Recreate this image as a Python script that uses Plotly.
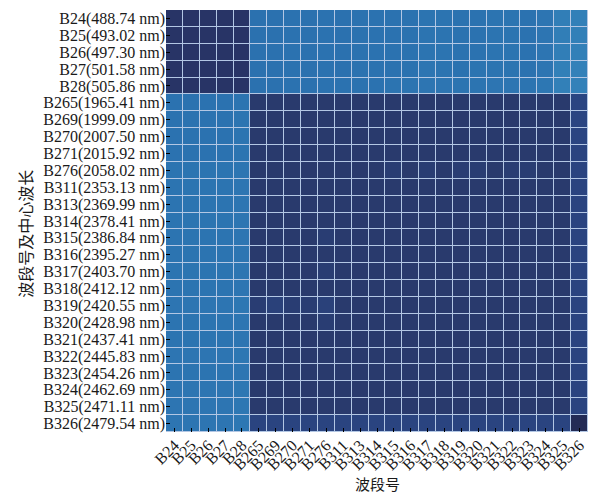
import plotly.graph_objects as go

bands = ["B24", "B25", "B26", "B27", "B28", "B265", "B269", "B270", "B271", "B276",
         "B311", "B313", "B314", "B315", "B316", "B317", "B318", "B319", "B320",
         "B321", "B322", "B323", "B324", "B325", "B326"]
wavelengths = ["488.74", "493.02", "497.30", "501.58", "505.86", "1965.41", "1999.09",
               "2007.50", "2015.92", "2058.02", "2353.13", "2369.99", "2378.41",
               "2386.84", "2395.27", "2403.70", "2412.12", "2420.55", "2428.98",
               "2437.41", "2445.83", "2454.26", "2462.69", "2471.11", "2479.54"]

row_labels = [f"{b}({w} nm)" for b, w in zip(bands, wavelengths)]

# correlation-like values
r_vis = [
    [0.99, 0.99, 0.99, 0.99, 0.99, 0.21, 0.21, 0.20, 0.21, 0.20, 0.21, 0.20, 0.20, 0.20, 0.20, 0.19, 0.19, 0.20, 0.20, 0.19, 0.19, 0.20, 0.18, 0.12, 0.11],
    [0.99, 0.99, 0.99, 0.99, 0.99, 0.21, 0.21, 0.20, 0.21, 0.20, 0.21, 0.20, 0.20, 0.20, 0.20, 0.19, 0.19, 0.20, 0.20, 0.19, 0.19, 0.20, 0.18, 0.12, 0.11],
    [0.99, 0.99, 0.99, 0.99, 0.99, 0.21, 0.21, 0.20, 0.21, 0.20, 0.21, 0.20, 0.20, 0.20, 0.20, 0.19, 0.19, 0.20, 0.20, 0.19, 0.19, 0.20, 0.18, 0.12, 0.11],
    [0.99, 0.99, 0.99, 0.99, 0.99, 0.21, 0.21, 0.20, 0.21, 0.20, 0.21, 0.20, 0.20, 0.20, 0.20, 0.18, 0.19, 0.20, 0.19, 0.19, 0.19, 0.20, 0.18, 0.11, 0.10],
    [0.99, 0.99, 0.99, 0.99, 0.99, 0.21, 0.21, 0.20, 0.21, 0.20, 0.20, 0.20, 0.20, 0.19, 0.19, 0.18, 0.18, 0.19, 0.19, 0.18, 0.18, 0.19, 0.17, 0.11, 0.10],
]
r_swir = [
    [0.20, 0.20, 0.20, 0.20, 0.19, 0.97, 0.97, 0.97, 0.97, 0.97, 0.97, 0.97, 0.97, 0.97, 0.97, 0.97, 0.97, 0.97, 0.97, 0.97, 0.97, 0.97, 0.97, 0.97, 0.93],
    [0.20, 0.20, 0.20, 0.20, 0.19, 0.97, 0.97, 0.97, 0.97, 0.97, 0.97, 0.97, 0.97, 0.97, 0.97, 0.97, 0.97, 0.97, 0.97, 0.97, 0.97, 0.97, 0.97, 0.97, 0.93],
    [0.20, 0.20, 0.20, 0.20, 0.19, 0.97, 0.97, 0.97, 0.97, 0.97, 0.97, 0.97, 0.97, 0.97, 0.97, 0.97, 0.97, 0.97, 0.97, 0.97, 0.97, 0.97, 0.97, 0.97, 0.93],
    [0.20, 0.20, 0.20, 0.20, 0.19, 0.97, 0.97, 0.97, 0.97, 0.97, 0.97, 0.97, 0.97, 0.97, 0.97, 0.97, 0.97, 0.97, 0.97, 0.97, 0.97, 0.97, 0.97, 0.97, 0.94],
    [0.19, 0.19, 0.19, 0.19, 0.18, 0.97, 0.97, 0.97, 0.97, 0.97, 0.97, 0.97, 0.97, 0.96, 0.97, 0.96, 0.97, 0.96, 0.96, 0.97, 0.96, 0.96, 0.97, 0.97, 0.94],
    [0.19, 0.19, 0.19, 0.19, 0.18, 0.97, 0.97, 0.97, 0.97, 0.97, 0.97, 0.97, 0.97, 0.97, 0.97, 0.97, 0.97, 0.97, 0.97, 0.97, 0.97, 0.97, 0.97, 0.97, 0.94],
    [0.19, 0.19, 0.19, 0.19, 0.18, 0.97, 0.97, 0.97, 0.97, 0.97, 0.97, 0.97, 0.97, 0.97, 0.97, 0.97, 0.97, 0.97, 0.97, 0.97, 0.97, 0.97, 0.97, 0.97, 0.94],
    [0.19, 0.19, 0.19, 0.19, 0.18, 0.97, 0.97, 0.97, 0.97, 0.97, 0.97, 0.97, 0.97, 0.97, 0.97, 0.97, 0.97, 0.97, 0.97, 0.97, 0.97, 0.97, 0.97, 0.97, 0.94],
    [0.19, 0.19, 0.19, 0.19, 0.18, 0.97, 0.97, 0.97, 0.97, 0.96, 0.97, 0.97, 0.97, 0.97, 0.97, 0.97, 0.97, 0.97, 0.97, 0.97, 0.97, 0.97, 0.97, 0.97, 0.94],
    [0.19, 0.19, 0.19, 0.19, 0.18, 0.97, 0.97, 0.97, 0.97, 0.97, 0.97, 0.97, 0.97, 0.97, 0.97, 0.97, 0.97, 0.97, 0.97, 0.97, 0.97, 0.97, 0.97, 0.97, 0.94],
    [0.19, 0.19, 0.19, 0.19, 0.18, 0.97, 0.97, 0.97, 0.97, 0.96, 0.97, 0.97, 0.97, 0.97, 0.97, 0.97, 0.97, 0.97, 0.97, 0.97, 0.97, 0.97, 0.97, 0.97, 0.94],
    [0.19, 0.19, 0.19, 0.19, 0.18, 0.97, 0.97, 0.97, 0.97, 0.97, 0.97, 0.97, 0.97, 0.97, 0.97, 0.97, 0.97, 0.97, 0.97, 0.97, 0.97, 0.97, 0.97, 0.97, 0.94],
    [0.18, 0.18, 0.18, 0.18, 0.17, 0.96, 0.95, 0.96, 0.96, 0.95, 0.97, 0.97, 0.97, 0.97, 0.97, 0.97, 0.97, 0.97, 0.97, 0.97, 0.97, 0.97, 0.97, 0.97, 0.94],
    [0.19, 0.19, 0.19, 0.19, 0.18, 0.97, 0.97, 0.97, 0.97, 0.96, 0.97, 0.97, 0.97, 0.97, 0.97, 0.97, 0.97, 0.97, 0.97, 0.97, 0.97, 0.97, 0.97, 0.97, 0.94],
    [0.19, 0.19, 0.19, 0.19, 0.18, 0.97, 0.97, 0.97, 0.97, 0.97, 0.97, 0.97, 0.97, 0.97, 0.97, 0.97, 0.97, 0.97, 0.97, 0.97, 0.97, 0.97, 0.97, 0.97, 0.94],
    [0.18, 0.18, 0.18, 0.18, 0.17, 0.97, 0.97, 0.97, 0.97, 0.97, 0.97, 0.97, 0.97, 0.97, 0.97, 0.97, 0.97, 0.97, 0.97, 0.97, 0.97, 0.97, 0.97, 0.97, 0.94],
    [0.19, 0.19, 0.19, 0.19, 0.18, 0.97, 0.97, 0.97, 0.97, 0.97, 0.97, 0.97, 0.97, 0.97, 0.97, 0.97, 0.97, 0.97, 0.97, 0.97, 0.97, 0.97, 0.97, 0.97, 0.94],
    [0.18, 0.18, 0.18, 0.18, 0.17, 0.97, 0.97, 0.97, 0.97, 0.97, 0.97, 0.97, 0.97, 0.97, 0.97, 0.97, 0.97, 0.97, 0.97, 0.97, 0.97, 0.97, 0.97, 0.97, 0.94],
    [0.18, 0.18, 0.18, 0.18, 0.17, 0.97, 0.97, 0.97, 0.97, 0.97, 0.97, 0.97, 0.97, 0.97, 0.97, 0.97, 0.97, 0.97, 0.97, 0.97, 0.97, 0.97, 0.97, 0.97, 0.94],
    [0.18, 0.18, 0.18, 0.18, 0.17, 0.94, 0.94, 0.94, 0.94, 0.94, 0.94, 0.94, 0.94, 0.94, 0.94, 0.94, 0.94, 0.94, 0.94, 0.94, 0.94, 0.94, 0.94, 0.94, 1.00],
]
z_values = r_vis + r_swir

colorscale = [
    [0.00, "#3a8cc2"],
    [0.10, "#3381b9"],
    [0.20, "#2b72b0"],
    [0.55, "#2a5c9a"],
    [0.94, "#2a4480"],
    [0.97, "#293a6d"],
    [0.99, "#283466"],
    [1.00, "#232b55"],
]

fig = go.Figure(go.Heatmap(
    z=z_values,
    x=bands,
    y=row_labels,
    colorscale=colorscale,
    zmin=0, zmax=1,
    xgap=1, ygap=1,
    showscale=False,
))

serif = "Liberation Serif, Times New Roman, serif"
cjk = "Noto Sans CJK SC, Noto Sans CJK JP, sans-serif"

fig.update_layout(
    width=591, height=494,
    margin=dict(l=166, r=3, t=10, b=62),
    paper_bgcolor="white",
    plot_bgcolor="#b3c7e4",
    font=dict(family=serif, size=16, color="#1a1a1a"),
    showlegend=False,
)
fig.update_xaxes(
    type="category", tickmode="array", tickvals=bands, ticktext=bands,
    tickangle=-45, tickfont=dict(family=serif, size=16, color="#1a1a1a"),
    ticks="inside", ticklen=4, tickwidth=1, tickcolor="black",
    showgrid=False, zeroline=False, showline=False, automargin=False,
)
fig.update_yaxes(
    type="category", autorange="reversed", tickmode="array",
    tickvals=row_labels, ticktext=row_labels,
    tickfont=dict(family=serif, size=16, color="#1a1a1a"),
    ticks="inside", ticklen=4, tickwidth=1, tickcolor="black",
    showgrid=False, zeroline=False, showline=False, automargin=False,
)
fig.add_annotation(text="波段号", xref="paper", yref="paper", x=0.5, y=-0.121,
                   xanchor="center", yanchor="middle", showarrow=False,
                   font=dict(family=cjk, size=15, color="#1a1a1a"))
fig.add_annotation(text="波段号及中心波长", xref="paper", yref="paper",
                   x=(25 - 166) / 422, y=0.47, textangle=-90,
                   xanchor="center", yanchor="middle", showarrow=False,
                   font=dict(family=cjk, size=16, color="#1a1a1a"))

fig.write_html("out.html", config={"displayModeBar": False},
               post_script="document.body.style.margin='0';document.body.style.padding='0';")
